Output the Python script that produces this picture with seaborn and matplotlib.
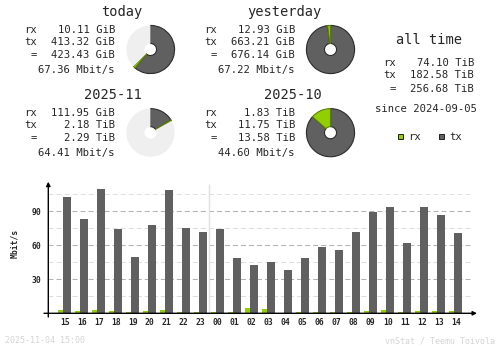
import numpy as np
import pandas as pd
import matplotlib
matplotlib.use("Agg")
import matplotlib.pyplot as plt
from matplotlib.patches import Rectangle
import seaborn as sns

# ---- summary data -------------------------------------------------------
periods = ["today", "yesterday", "2025-11", "2025-10"]
rx_val = [10.11, 12.93, 111.95, 1.83]
rx_unit = ["GiB", "GiB", "GiB", "TiB"]
tx_val = [413.32, 663.21, 2.18, 11.75]
tx_unit = ["GiB", "GiB", "TiB", "TiB"]
total_val = [423.43, 676.14, 2.29, 13.58]
total_unit = ["GiB", "GiB", "TiB", "TiB"]
avg_rate = [67.36, 67.22, 64.41, 44.60]
# period each pie is measured against (None = complete ring)
reference_period = [1, None, 3, None]

alltime_labels = ["rx", "tx", "="]
alltime_vals = [74.10, 182.58, 256.68]
alltime_unit = "TiB"
since_date = "2024-09-05"

# ---- hourly data (last 24 hours) ----------------------------------------
hours = ["15", "16", "17", "18", "19", "20", "21", "22", "23", "00", "01", "02",
         "03", "04", "05", "06", "07", "08", "09", "10", "11", "12", "13", "14"]
rx_rates = [2.9, 2.1, 2.9, 2.1, 1.2, 2.1, 2.9, 1.2, 1.2, 1.2, 1.2, 4.7,
            3.8, 0.2, 1.2, 1.2, 1.2, 1.2, 2.1, 2.9, 1.2, 2.1, 2.1, 2.1]
tx_rates = [102.9, 83.2, 109.7, 74.7, 49.7, 77.9, 108.8, 75.3, 71.8, 74.4, 48.8, 42.6,
            45.3, 38.2, 48.8, 58.5, 55.9, 71.8, 89.4, 93.8, 62.1, 93.8, 86.8, 70.9]
timestamp = "2025-11-04 15:00"
credit = "vnStat / Teemu Toivola"

# ---- styling ------------------------------------------------------------
RX = "#92cf00"
RX_EDGE = "#5a8000"
TX = "#606060"
TX_EDGE = "#2c2c2c"
EMPTY = "#efefef"
FAINT = "#d4d4d4"

sns.set_style("white")
plt.rcParams["font.family"] = ["DejaVu Sans Mono"]

W, H = 500, 348
fig = plt.figure(figsize=(W / 100, H / 100), dpi=100)
fig.patch.set_facecolor("white")


def fx(x):
    return x / W


def fy(y):
    return 1 - y / H


def ptext(x, y, s, ha="left", size=7.6, **kw):
    fig.text(fx(x), fy(y), s, ha=ha, va="baseline", fontsize=size, **kw)


UNIT_GIB = {"GiB": 1.0, "TiB": 1024.0}

# ---- period blocks with donut pies ---------------------------------------
block_origin = [(0, 0), (180, 0), (0, 83.2), (180, 83.2)]
for i, name in enumerate(periods):
    ox, oy = block_origin[i]
    ptext(142 + ox, 16 + oy, name, ha="right", size=9.8)
    rows = [("rx", f"{rx_val[i]:.2f} {rx_unit[i]}", 33.3),
            ("tx", f"{tx_val[i]:.2f} {tx_unit[i]}", 45.0),
            ("=", f"{total_val[i]:.2f} {total_unit[i]}", 58.3)]
    for lab, val, by in rows:
        ptext(36.7 + ox, by + oy, lab, ha="right")
        ptext(115 + ox, by + oy, val, ha="right")
    ptext(115 + ox, 72.7 + oy, f"{avg_rate[i]:.2f} Mbit/s", ha="right")

    rx_g = rx_val[i] * UNIT_GIB[rx_unit[i]]
    tx_g = tx_val[i] * UNIT_GIB[tx_unit[i]]
    tot_g = rx_g + tx_g
    ref = reference_period[i]
    if ref is None:
        fill = 1.0
    else:
        fill = min(1.0, total_val[i] * UNIT_GIB[total_unit[i]]
                   / (total_val[ref] * UNIT_GIB[total_unit[ref]]))
    parts = [fill * tx_g / tot_g, fill * rx_g / tot_g, max(1e-9, 1 - fill)]

    cx, cy, r = 150.5 + ox, 49.5 + oy, 24.8
    pax = fig.add_axes([fx(cx - r), fy(cy + r), 2 * r / W, 2 * r / H])
    wedges, _ = pax.pie(parts, colors=[TX, RX, EMPTY], startangle=90,
                        counterclock=False, radius=1,
                        wedgeprops=dict(width=0.75, linewidth=0.8))
    wedges[0].set_edgecolor(TX_EDGE)
    wedges[1].set_edgecolor(RX_EDGE)
    wedges[2].set_edgecolor("none")
    pax.set_xlim(-1.03, 1.03)
    pax.set_ylim(-1.03, 1.03)
    pax.set_aspect("equal")
    pax.axis("off")

# ---- all time block ------------------------------------------------------
ptext(428.8, 44.3, "all time", ha="center", size=9.8)
for lab, val, by in zip(alltime_labels, alltime_vals, [66.0, 77.7, 92.0]):
    ptext(395.7, by, lab, ha="right")
    ptext(474, by, f"{val:.2f} {alltime_unit}", ha="right")
ptext(426.3, 112, f"since {since_date}", ha="center")

for (sx, tx_x, lab, col, ec) in [(398.3, 408, "rx", RX, RX_EDGE),
                                 (439.3, 449, "tx", TX, TX_EDGE)]:
    fig.patches.append(Rectangle((fx(sx), fy(138.8)), 4.6 / W, 4.6 / H,
                                 transform=fig.transFigure, facecolor=col,
                                 edgecolor="#202020", linewidth=0.7))
    ptext(tx_x, 139.7, lab, ha="left")

# ---- hourly bar chart ----------------------------------------------------
left_px, right_px = 48.3, 477.0
base_px, top_px = 313.3, 181.7
ax = fig.add_axes([fx(left_px), fy(base_px), (right_px - left_px) / W,
                   (base_px - top_px) / H])

spacing = 17.0
first_px = 64.8
xmin = -(first_px - left_px) / spacing
xmax = (right_px - first_px) / spacing
ymax = (base_px - top_px) / 34.0 * 30.0

df = pd.DataFrame({"hour": hours, "rx": rx_rates, "tx": tx_rates,
                   "pos": np.arange(len(hours), dtype=float)})
df["pos_rx"] = df["pos"] - 4.3 / spacing
df["pos_tx"] = df["pos"] + 2.2 / spacing

grid_end = (472.7 - first_px) / spacing
ax.hlines([15, 45, 75, 105], xmin, grid_end, colors="#dedede",
          linestyles=(0, (4.8, 2.9)), lw=0.75, zorder=0)
ax.hlines([30, 60, 90], xmin, grid_end, colors="#b2b2b2",
          linestyles=(0, (4.8, 2.9)), lw=0.75, zorder=0)
ax.vlines(8.5, 0, 114.0, colors="#e0e0e0", lw=1.0, zorder=0)

sns.barplot(data=df, x="pos_tx", y="tx", native_scale=True, width=8 / spacing,
            color=TX, saturation=1, errorbar=None, linewidth=0, ax=ax, zorder=2)
sns.barplot(data=df, x="pos_rx", y="rx", native_scale=True, width=5 / spacing,
            color=RX, saturation=1, errorbar=None, linewidth=0, ax=ax, zorder=2)

ax.set_xlim(xmin, xmax)
ax.set_ylim(0, ymax)
ax.set_xlabel("")
ax.set_ylabel("")
for s in ax.spines.values():
    s.set_visible(False)
ax.set_xticks(df["pos"])
ax.set_xticklabels(hours, fontsize=5.8, fontweight="bold")
ax.set_yticks([30, 60, 90])
ax.set_yticklabels(["30", "60", "90"], fontsize=5.8, fontweight="bold")
ax.tick_params(axis="x", length=0, pad=3.3)
ax.tick_params(axis="y", length=0, pad=5.3)
ax.set_facecolor("none")

# axes with arrow heads
ax_w_px = right_px - left_px
ax_h_px = base_px - top_px
ax.annotate("", xy=(1.0, 0.0), xytext=(-4.3 / ax_w_px, 0.0),
            xycoords="axes fraction", textcoords="axes fraction",
            arrowprops=dict(arrowstyle="-|>", color="black", lw=1.0,
                            mutation_scale=6, shrinkA=0, shrinkB=0),
            annotation_clip=False, zorder=5)
ax.annotate("", xy=(0.0, 1.0), xytext=(0.0, -3.7 / ax_h_px),
            xycoords="axes fraction", textcoords="axes fraction",
            arrowprops=dict(arrowstyle="-|>", color="black", lw=1.0,
                            mutation_scale=6, shrinkA=0, shrinkB=0),
            annotation_clip=False, zorder=5)

fig.text(fx(14.8), fy(243.3), "Mbit/s", rotation=90, ha="center", va="center",
         fontsize=5.8, fontweight="bold")

# ---- footer ---------------------------------------------------------------
ptext(4.7, 343, timestamp, ha="left", size=6.0, color=FAINT)
ptext(495, 343, credit, ha="right", size=6.0, color=FAINT)

fig.savefig("out.png", dpi=100, facecolor="white")
